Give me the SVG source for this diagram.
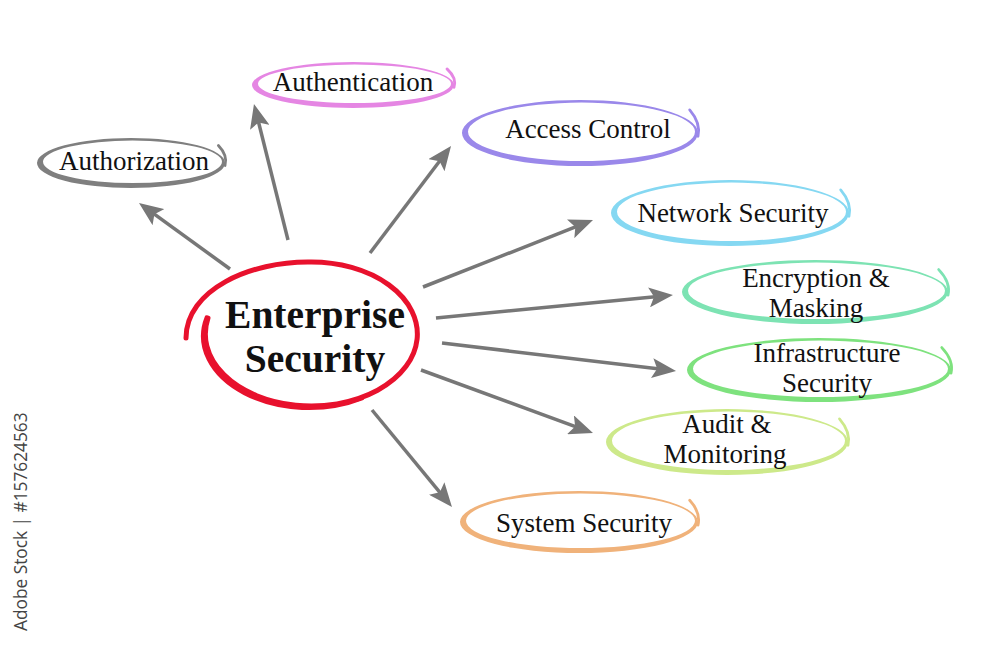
<svg xmlns="http://www.w3.org/2000/svg" width="1000" height="648" viewBox="0 0 1000 648">
<style>
.lbl{font-family:"Liberation Serif","Times New Roman",serif;font-size:27px;fill:#111;text-anchor:middle}
.main{font-family:"Liberation Serif","Times New Roman",serif;font-size:39.5px;font-weight:bold;fill:#111;text-anchor:middle}
.ring{fill-rule:evenodd;stroke:none}
.tail{fill:none;stroke-width:2.8;stroke-linecap:round}
.arr{stroke:#777;stroke-width:3.5;fill:none;marker-end:url(#ah)}
.wm{font-family:"Open Sans","DejaVu Sans",sans-serif;font-size:17.3px;fill:#444}
</style>
<defs>
<marker id="ah" viewBox="0 0 24 20" refX="14" refY="10" markerWidth="24" markerHeight="20" markerUnits="userSpaceOnUse" orient="auto">
<path d="M0,0 L24,10 L0,20 L5,10 z" fill="#777"/>
</marker>
</defs>
<rect width="1000" height="648" fill="#fff"/>

<g id="connectors">
<line class="arr" x1="230" y1="269" x2="147.1" y2="208.9"/>
<line class="arr" x1="288" y1="240" x2="256.4" y2="113.7"/>
<line class="arr" x1="370" y1="253" x2="445" y2="154"/>
<line class="arr" x1="423" y1="287" x2="583.7" y2="223.7"/>
<line class="arr" x1="436" y1="318" x2="663" y2="296"/>
<line class="arr" x1="442" y1="343" x2="666.1" y2="369.8"/>
<line class="arr" x1="421" y1="370" x2="583.6" y2="429.6"/>
<line class="arr" x1="372" y1="410" x2="445.6" y2="499.3"/>
</g>

<g id="enterprise-security">
<path d="M208,318 A106,72 0 1 0 311,262 C250,261 186,290 186,338" fill="none" stroke="#e8112d" stroke-width="5" stroke-linecap="round"/>
<path d="M206.6,317.4 A106,72 0 0 0 362,398.4" fill="none" stroke="#e8112d" stroke-width="4" stroke-linecap="round"/>
<text class="main" x="315" y="328">Enterprise</text>
<text class="main" x="315" y="372">Security</text>
</g>

<g id="authorization">
<path class="ring" fill="#7f7f7f" d="M37,163 a94,25 0 1 0 188,0 a94,25 0 1 0 -188,0 z M43,161.8 a89.5,21.2 0 1 0 179,0 a89.5,21.2 0 1 0 -179,0 z"/>
<path class="tail" stroke="#7f7f7f" d="M218.4,145.5 Q228,155.5 225,165.5"/>
<text class="lbl" x="134" y="170">Authorization</text>
</g>

<g id="authentication">
<path class="ring" fill="#e586e3" d="M252,85 a101,23 0 1 0 202,0 a101,23 0 1 0 -202,0 z M258,83.8 a96.5,19.2 0 1 0 193,0 a96.5,19.2 0 1 0 -193,0 z"/>
<path class="tail" stroke="#e586e3" d="M447,68.9 Q457,78.1 454,87.3"/>
<text class="lbl" x="353" y="91">Authentication</text>
</g>

<g id="access-control">
<path class="ring" fill="#9a88ea" d="M462,133 a118,33 0 1 0 236,0 a118,33 0 1 0 -236,0 z M468,131.8 a113.5,29.2 0 1 0 227,0 a113.5,29.2 0 1 0 -227,0 z"/>
<path class="tail" stroke="#9a88ea" d="M689.7,109.9 Q701,123.1 698,136.3"/>
<text class="lbl" x="588" y="138">Access Control</text>
</g>

<g id="network-security">
<path class="ring" fill="#85d8f2" d="M611,213 a119,33 0 1 0 238,0 a119,33 0 1 0 -238,0 z M617,211.8 a114.5,29.2 0 1 0 229,0 a114.5,29.2 0 1 0 -229,0 z"/>
<path class="tail" stroke="#85d8f2" d="M840.7,189.9 Q852,203.1 849,216.3"/>
<text class="lbl" x="733" y="222">Network Security</text>
</g>

<g id="encryption-masking">
<path class="ring" fill="#7de3b3" d="M682,292 a133,32 0 1 0 266,0 a133,32 0 1 0 -266,0 z M688,290.8 a128.5,28.2 0 1 0 257,0 a128.5,28.2 0 1 0 -257,0 z"/>
<path class="tail" stroke="#7de3b3" d="M938.7,269.6 Q951,282.4 948,295.2"/>
<text class="lbl" x="816" y="287">Encryption &amp;</text>
<text class="lbl" x="816" y="317">Masking</text>
</g>

<g id="infrastructure-security">
<path class="ring" fill="#7ee27e" d="M687,370 a132,32 0 1 0 264,0 a132,32 0 1 0 -264,0 z M693,368.8 a127.5,28.2 0 1 0 255,0 a127.5,28.2 0 1 0 -255,0 z"/>
<path class="tail" stroke="#7ee27e" d="M941.8,347.6 Q954,360.4 951,373.2"/>
<text class="lbl" x="827" y="362">Infrastructure</text>
<text class="lbl" x="827" y="392">Security</text>
</g>

<g id="audit-monitoring">
<path class="ring" fill="#cde98a" d="M606,442 a121,33 0 1 0 242,0 a121,33 0 1 0 -242,0 z M612,440.8 a116.5,29.2 0 1 0 233,0 a116.5,29.2 0 1 0 -233,0 z"/>
<path class="tail" stroke="#cde98a" d="M839.5,418.9 Q851,432.1 848,445.3"/>
<text class="lbl" x="727" y="433">Audit &amp;</text>
<text class="lbl" x="725" y="463">Monitoring</text>
</g>

<g id="system-security">
<path class="ring" fill="#f0b27a" d="M460,522 a119,31 0 1 0 238,0 a119,31 0 1 0 -238,0 z M466,520.8 a114.5,27.2 0 1 0 229,0 a114.5,27.2 0 1 0 -229,0 z"/>
<path class="tail" stroke="#f0b27a" d="M689.7,500.3 Q701,512.7 698,525.1"/>
<text class="lbl" x="584" y="532">System Security</text>
</g>

<text class="wm" transform="translate(27,631) rotate(-90)">Adobe Stock | #157624563</text>
</svg>
